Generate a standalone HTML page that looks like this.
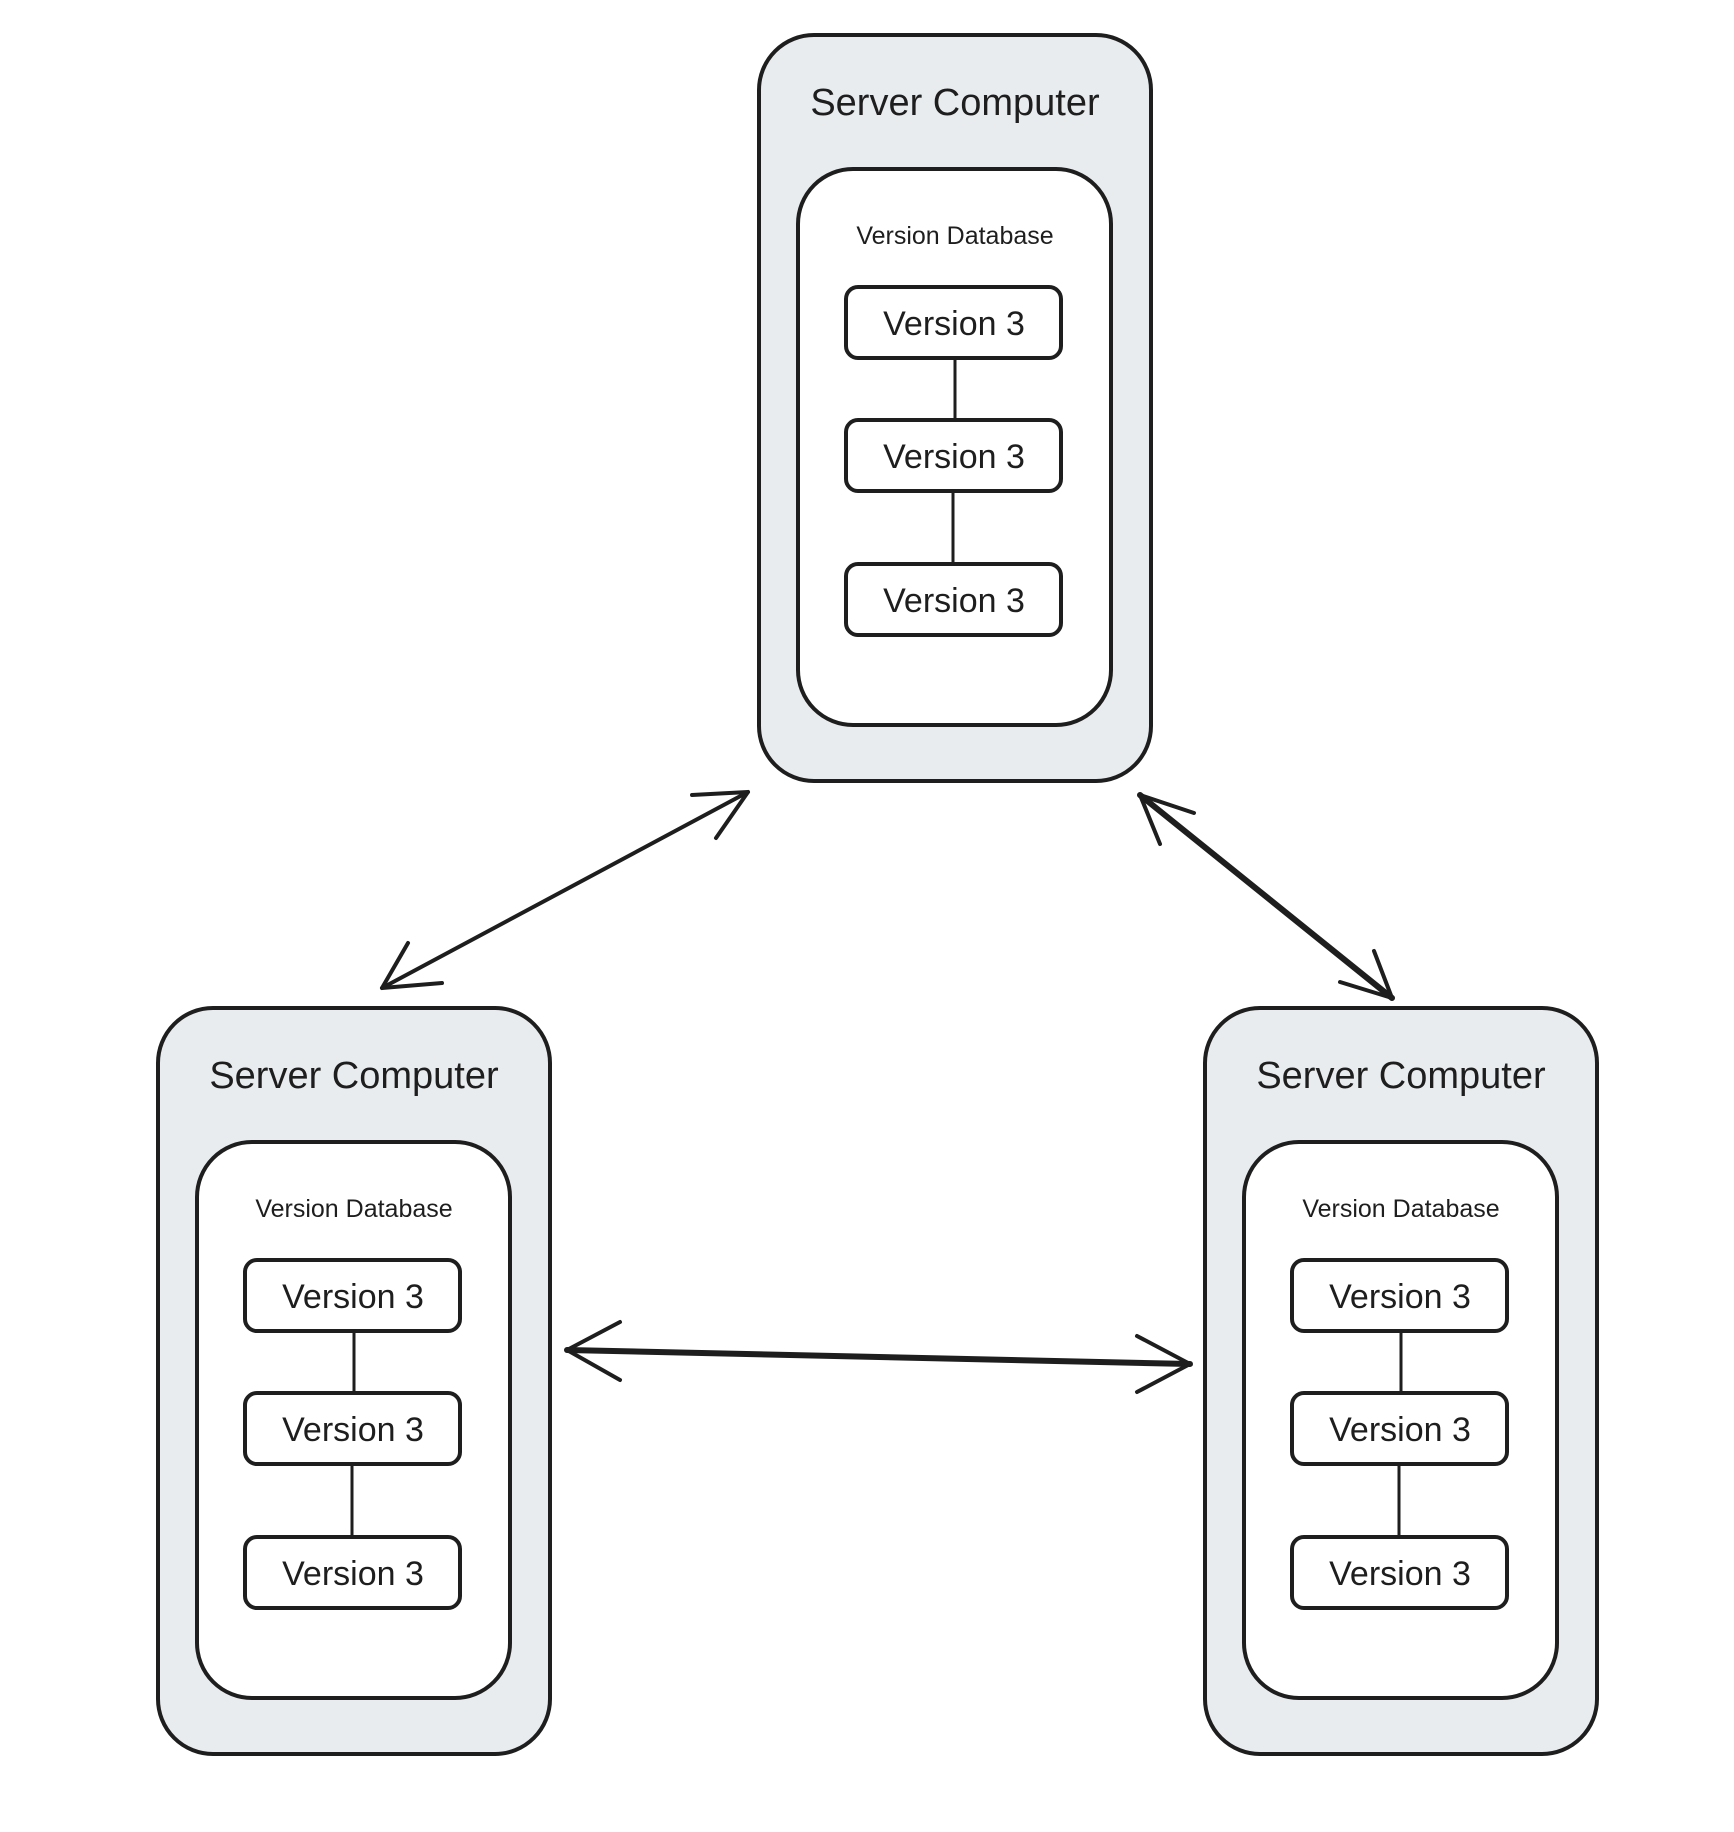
<!DOCTYPE html>
<html><head><meta charset="utf-8"><style>
html,body{margin:0;padding:0;background:#fff;}
svg{display:block}
text{font-family:"Liberation Sans",sans-serif;fill:#1e1e1e;text-anchor:middle}
</style></head><body>
<svg width="1734" height="1832" viewBox="0 0 1734 1832" xmlns="http://www.w3.org/2000/svg">
<defs>
<g id="srv">
  <rect x="0" y="0" width="392" height="746" rx="55" fill="#e9ecef" stroke="#1e1e1e" stroke-width="4"/>
  <text x="196" y="80" font-size="38">Server Computer</text>
  <rect x="39" y="134" width="313" height="556" rx="55" fill="#fff" stroke="#1e1e1e" stroke-width="4"/>
  <text x="196" y="209" font-size="25">Version Database</text>
  <line x1="196" y1="324" x2="196" y2="387" stroke="#1e1e1e" stroke-width="3"/>
  <line x1="194" y1="458" x2="194" y2="532" stroke="#1e1e1e" stroke-width="3"/>
  <rect x="87" y="252" width="215" height="71" rx="12" fill="#fff" stroke="#1e1e1e" stroke-width="4"/>
  <rect x="87" y="385" width="215" height="71" rx="12" fill="#fff" stroke="#1e1e1e" stroke-width="4"/>
  <rect x="87" y="529" width="215" height="71" rx="12" fill="#fff" stroke="#1e1e1e" stroke-width="4"/>
  <text x="195" y="300" font-size="34">Version 3</text>
  <text x="195" y="433" font-size="34">Version 3</text>
  <text x="195" y="577" font-size="34">Version 3</text>
</g>
</defs>
<use href="#srv" x="759" y="35"/>
<use href="#srv" x="158" y="1008"/>
<use href="#srv" x="1205" y="1008"/>
<g stroke="#1e1e1e" fill="none" stroke-linecap="round" stroke-linejoin="round">
  <path d="M748 792 L382 988" stroke-width="4"/>
  <path d="M692 795 L748 792 L716 838" stroke-width="4"/>
  <path d="M408 943 L382 988 L442 983" stroke-width="4"/>
  <path d="M1140 795 L1392 998" stroke-width="6"/>
  <path d="M1194 813 L1140 795 L1160 844" stroke-width="4"/>
  <path d="M1340 982 L1392 998 L1374 951" stroke-width="4"/>
  <path d="M567 1350 L1190 1364" stroke-width="6"/>
  <path d="M620 1322 L567 1350 L620 1380" stroke-width="4"/>
  <path d="M1137 1336 L1190 1364 L1137 1392" stroke-width="4"/>
</g>
</svg>
</body></html>
